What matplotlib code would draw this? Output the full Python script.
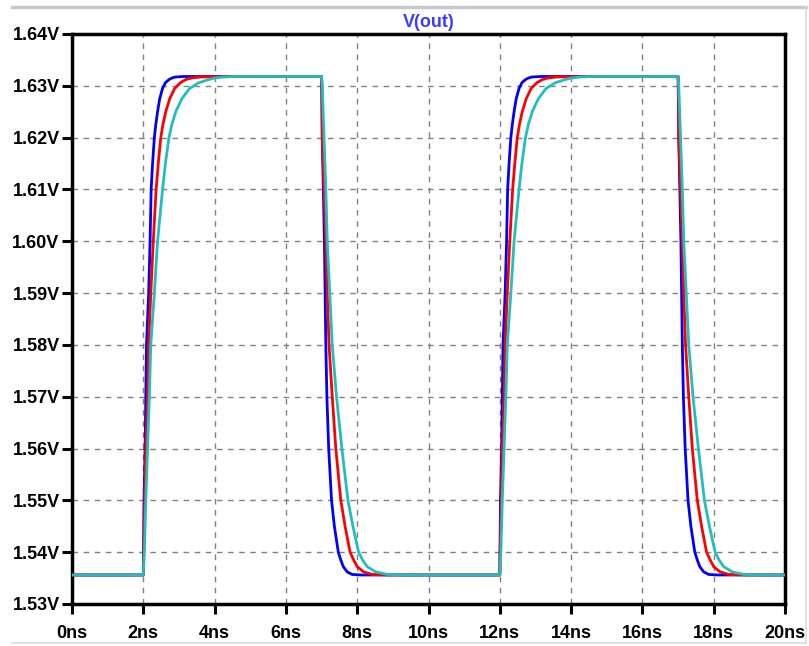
import matplotlib
matplotlib.use("Agg")
import matplotlib.pyplot as plt
from matplotlib.lines import Line2D
import numpy as np

# levels of V(out)
v_low = 1.5356
v_high = 1.6318

# edge start times (ns)
rise_times = [2, 12]
fall_times = [7, 17]

# edge shapes: time after edge (ns), voltage (V)
blue_rise_dt = [0, 0.005, 0.02, 0.05, 0.07, 0.09, 0.15, 0.19, 0.22, 0.26, 0.31, 0.35, 0.40, 0.46, 0.54, 0.62, 0.72, 0.80, 0.90, 1.14]
blue_rise_v = [1.5356, 1.54, 1.55, 1.56, 1.57, 1.58, 1.59, 1.60, 1.61, 1.615, 1.62, 1.6225, 1.625, 1.6275, 1.6295, 1.6306, 1.6312, 1.6315, 1.6317, 1.6318]
red_rise_dt = [0, 0.01, 0.04, 0.07, 0.12, 0.15, 0.21, 0.28, 0.36, 0.42, 0.49, 0.55, 0.63, 0.74, 0.88, 1.04, 1.19, 1.35, 1.6, 2.3]
red_rise_v = [1.5356, 1.54, 1.55, 1.56, 1.57, 1.58, 1.59, 1.60, 1.61, 1.615, 1.62, 1.6225, 1.625, 1.6275, 1.6295, 1.6306, 1.6312, 1.6315, 1.6317, 1.6318]
cyan_rise_dt = [0, 0.03, 0.07, 0.12, 0.17, 0.21, 0.31, 0.40, 0.54, 0.62, 0.72, 0.80, 0.91, 1.08, 1.30, 1.56, 1.83, 2.0, 2.25, 2.6]
cyan_rise_v = [1.5356, 1.54, 1.55, 1.56, 1.57, 1.58, 1.59, 1.60, 1.61, 1.615, 1.62, 1.6225, 1.625, 1.6275, 1.6295, 1.6306, 1.6312, 1.6315, 1.6317, 1.6318]

blue_fall_dt = [0, 0.005, 0.02, 0.05, 0.08, 0.10, 0.12, 0.15, 0.20, 0.28, 0.36, 0.47, 0.54, 0.61, 0.72, 0.86, 1.1]
blue_fall_v = [1.6318, 1.63, 1.62, 1.61, 1.60, 1.59, 1.58, 1.57, 1.56, 1.55, 1.545, 1.54, 1.5385, 1.5372, 1.5362, 1.5357, 1.5356]
red_fall_dt = [0, 0.01, 0.02, 0.07, 0.12, 0.16, 0.21, 0.30, 0.40, 0.54, 0.66, 0.80, 0.90, 1.00, 1.18, 1.42, 1.9]
red_fall_v = [1.6318, 1.63, 1.62, 1.61, 1.60, 1.59, 1.58, 1.57, 1.56, 1.55, 1.545, 1.54, 1.5385, 1.5372, 1.5362, 1.5357, 1.5356]
cyan_fall_dt = [0, 0.02, 0.07, 0.12, 0.16, 0.23, 0.30, 0.42, 0.57, 0.74, 0.88, 1.04, 1.15, 1.28, 1.52, 1.85, 2.4]
cyan_fall_v = [1.6318, 1.63, 1.62, 1.61, 1.60, 1.59, 1.58, 1.57, 1.56, 1.55, 1.545, 1.54, 1.5385, 1.5372, 1.5362, 1.5357, 1.5356]

x_ticks = list(range(0, 21, 2))
y_ticks = [1.53, 1.54, 1.55, 1.56, 1.57, 1.58, 1.59, 1.60, 1.61, 1.62, 1.63, 1.64]


def build_wave(rise_dt, rise_v, fall_dt, fall_v):
    t = [0.0]
    v = [v_low]
    for r, f in zip(rise_times, fall_times):
        t += [r + d for d in rise_dt]
        v += list(rise_v)
        t += [f + d for d in fall_dt]
        v += list(fall_v)
    t.append(20.0)
    v.append(v_low)
    return np.array(t), np.array(v)


plt.rcParams['font.family'] = ['Liberation Sans', 'DejaVu Sans']

fig = plt.figure(figsize=(8.09, 6.46), dpi=100)
ax = fig.add_axes([72 / 809, 42 / 646, (785 - 72) / 809, (604 - 34) / 646])

waves = [
    (blue_rise_dt, blue_rise_v, blue_fall_dt, blue_fall_v, '#0000ff'),
    (red_rise_dt, red_rise_v, red_fall_dt, red_fall_v, '#ff0000'),
    (cyan_rise_dt, cyan_rise_v, cyan_fall_dt, cyan_fall_v, '#1fbfbf'),
]
for rd, rv, fd, fv, col in waves:
    t, v = build_wave(rd, rv, fd, fv)
    ax.plot(t, v, color=col, lw=2.0, solid_joinstyle='round', zorder=3)

ax.set_xlim(0, 20)
ax.set_ylim(1.53, 1.64)
ax.set_xticks(x_ticks)
ax.set_xticklabels([f"{x}ns" for x in x_ticks])
ax.set_yticks(y_ticks)
ax.set_yticklabels([f"{y:.2f}V" for y in y_ticks])
ax.grid(True, color='#808080', linestyle=(0, (4, 4)), linewidth=1.0)
ax.tick_params(direction='out', length=7, width=2.2, labelsize=13)
ax.tick_params(axis='x', pad=8)
ax.tick_params(axis='y', pad=2)
for lbl in ax.get_xticklabels() + ax.get_yticklabels():
    lbl.set_fontweight('bold')
for sp in ax.spines.values():
    sp.set_linewidth(2.5)
    sp.set_color('black')

ax.set_title("V(out)", color='#3c3cff', fontsize=13, fontweight='bold', pad=5)

# window frame lines
fig.add_artist(Line2D([12 / 809, 806 / 809], [1 - 7 / 646, 1 - 7 / 646], color='#c4c8d0', lw=2.5))
fig.add_artist(Line2D([806 / 809, 806 / 809], [1 - 7 / 646, 1 - 643 / 646], color='#d8dce4', lw=1.2))
fig.add_artist(Line2D([12 / 809, 806 / 809], [1 - 643 / 646, 1 - 643 / 646], color='#d8dce4', lw=1.2))

fig.savefig("out.png", dpi=100)
